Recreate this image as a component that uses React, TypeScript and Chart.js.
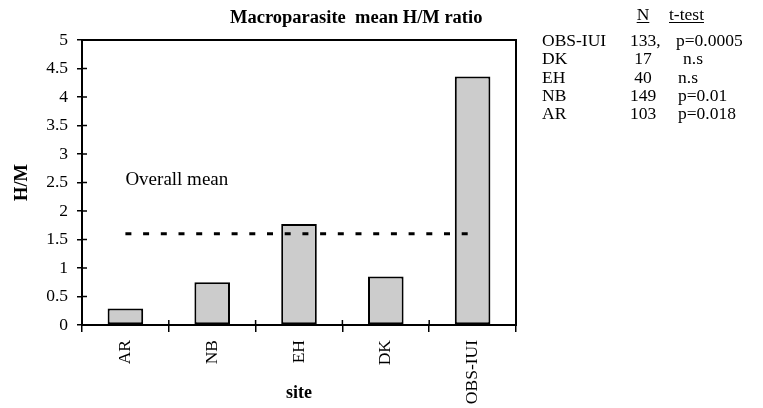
import React, { useEffect, useRef } from 'react';
import { Chart, registerables } from 'chart.js';

Chart.register(...registerables);

// ---- data ----
const categories = ['AR', 'NB', 'EH', 'DK', 'OBS-IUI'];
const ratioValues = [0.29, 0.75, 1.77, 0.85, 4.36];
const overallMean = [1.6, 1.6, 1.6, 1.6, 1.6];
const yMin = 0;
const yMax = 5;
const yStep = 0.5;
const chartTitle = 'Macroparasite  mean H/M ratio';
const meanLabel = 'Overall mean';
const meanLabelValue = 2.55;
const tableHeaderN = 'N';
const tableHeaderTest = 't-test';
const tableSites = ['OBS-IUI', 'DK', 'EH', 'NB', 'AR'];
const tableN = ['133', '17', '40', '149', '103'];
const tableNSuffix = [',', '', '', '', ''];
const tableTest = ['p=0.0005', 'n.s', 'n.s', 'p=0.01', 'p=0.018'];

// ---- layout (style only) ----
const FONT = '"Liberation Serif", "Times New Roman", serif';
const tableSiteX = 542;
const tableNCenterX = 643;
const tableHeaderTestX = 669;
const tableTestX = [676, 683, 678, 678, 678];
const tableHeaderY = 20;
const tableRowY0 = 46;
const tableRowGap = 18.3;

const overlayPlugin = {
  id: 'overlay',
  afterDraw(chart: any) {
    const { ctx, chartArea: a, scales } = chart;
    const xs = scales.x;
    const ys = scales.y;
    ctx.save();
    ctx.strokeStyle = '#000';
    ctx.fillStyle = '#000';
    // plot frame
    ctx.lineWidth = 2;
    ctx.strokeRect(a.left, a.top, a.right - a.left, a.bottom - a.top);
    // inward tick parts
    ctx.lineWidth = 1.5;
    ys.ticks.forEach((_t: any, i: number) => {
      const py = ys.getPixelForTick(i);
      ctx.beginPath();
      ctx.moveTo(a.left, py);
      ctx.lineTo(a.left + 5, py);
      ctx.stroke();
    });
    for (let i = 1; i < categories.length; i++) {
      const px = (xs.getPixelForValue(i - 1) + xs.getPixelForValue(i)) / 2;
      ctx.beginPath();
      ctx.moveTo(px, a.bottom - 5);
      ctx.lineTo(px, a.bottom);
      ctx.stroke();
    }
    // overall mean label
    ctx.font = `19px ${FONT}`;
    ctx.textAlign = 'left';
    ctx.textBaseline = 'middle';
    ctx.fillText(meanLabel, xs.getPixelForValue(0), ys.getPixelForValue(meanLabelValue));
    // title
    ctx.font = `bold 18.5px ${FONT}`;
    ctx.textBaseline = 'alphabetic';
    ctx.fillText(chartTitle, 230, 23);
    // table
    ctx.font = `17.5px ${FONT}`;
    ctx.textBaseline = 'alphabetic';
    const hy = tableHeaderY;
    ctx.textAlign = 'center';
    ctx.fillText(tableHeaderN, tableNCenterX, hy);
    const nw = ctx.measureText(tableHeaderN).width;
    ctx.textAlign = 'left';
    ctx.fillText(tableHeaderTest, tableHeaderTestX, hy);
    const tw = ctx.measureText(tableHeaderTest).width;
    ctx.lineWidth = 1;
    ctx.beginPath();
    ctx.moveTo(tableNCenterX - nw / 2, hy + 2.5);
    ctx.lineTo(tableNCenterX + nw / 2, hy + 2.5);
    ctx.moveTo(tableHeaderTestX, hy + 2.5);
    ctx.lineTo(tableHeaderTestX + tw, hy + 2.5);
    ctx.stroke();
    tableSites.forEach((site, i) => {
      const ry = tableRowY0 + i * tableRowGap;
      ctx.textAlign = 'left';
      ctx.fillText(site, tableSiteX, ry);
      const w = ctx.measureText(tableN[i]).width;
      ctx.fillText(tableN[i] + tableNSuffix[i], tableNCenterX - w / 2, ry);
      ctx.fillText(tableTest[i], tableTestX[i], ry);
    });
    ctx.restore();
  },
};

export default function App() {
  const ref = useRef<HTMLCanvasElement | null>(null);
  useEffect(() => {
    if (!ref.current) return;
    const chart = new Chart(ref.current, {
      type: 'bar',
      data: {
        labels: categories,
        datasets: [
          {
            type: 'line',
            label: 'Overall mean',
            data: overallMean,
            borderColor: '#000',
            borderWidth: 3,
            borderDash: [6, 11.7],
            pointRadius: 0,
            fill: false,
            order: 0,
          } as any,
          {
            type: 'bar',
            label: 'H/M',
            data: ratioValues,
            backgroundColor: '#cccccc',
            borderColor: '#000',
            borderWidth: 2,
            borderSkipped: false,
            barPercentage: 0.41,
            categoryPercentage: 1,
            order: 1,
          } as any,
        ],
      },
      options: {
        responsive: false,
        animation: false,
        layout: { padding: { top: 40, right: 247, left: 0, bottom: 0 } },
        plugins: {
          legend: { display: false },
          tooltip: { enabled: false },
          title: { display: false },
        },
        scales: {
          x: {
            afterFit: (s: any) => {
              s.height = 83;
            },
            border: { display: true, color: '#000', width: 2 },
            grid: {
              display: true,
              drawOnChartArea: false,
              drawTicks: true,
              tickLength: 7,
              color: '#000',
              lineWidth: 1.5,
              offset: true,
            },
            ticks: {
              color: '#000',
              font: { family: FONT, size: 17.5 },
              minRotation: 90,
              maxRotation: 90,
              padding: 8,
              autoSkip: false,
            },
            title: {
              display: true,
              text: 'site',
              color: '#000',
              font: { family: FONT, size: 18, weight: 'bold' },
              padding: { top: 4, bottom: 4 },
            },
          },
          y: {
            min: yMin,
            max: yMax,
            afterFit: (s: any) => {
              s.width = 82;
            },
            border: { display: true, color: '#000', width: 2 },
            grid: {
              display: true,
              drawOnChartArea: false,
              drawTicks: true,
              tickLength: 5,
              color: '#000',
              lineWidth: 1.5,
            },
            ticks: {
              stepSize: yStep,
              color: '#000',
              font: { family: FONT, size: 17.5 },
              padding: 9,
              callback: (v: any) => String(v),
            },
            title: {
              display: true,
              text: 'H/M',
              color: '#000',
              font: { family: FONT, size: 18.5, weight: 'bold' },
              padding: { top: 11, bottom: 11 },
            },
          },
        },
      },
      plugins: [overlayPlugin],
    });
    return () => chart.destroy();
  }, []);
  return (
    <div style={{ position: 'absolute', left: 0, top: 0, width: 763, height: 408, background: '#fff' }}>
      <canvas ref={ref} width={763} height={408} />
    </div>
  );
}
